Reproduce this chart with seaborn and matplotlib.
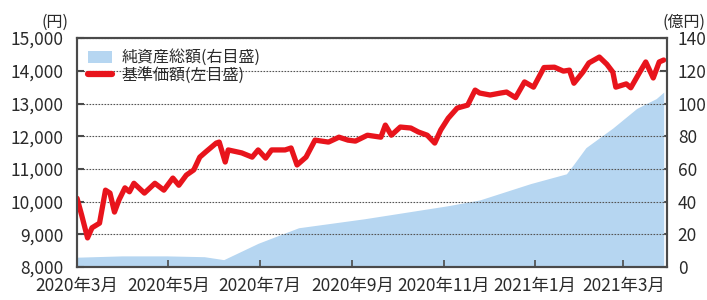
import matplotlib
matplotlib.use('Agg')
import matplotlib.pyplot as plt
from matplotlib.patches import Patch
from matplotlib.lines import Line2D
from matplotlib.ticker import FuncFormatter
import seaborn as sns
import pandas as pd

# 基準価額 (left axis, yen)
nav_dates = [
    '2020-03-01', '2020-03-04', '2020-03-08', '2020-03-11', '2020-03-16', '2020-03-20',
    '2020-03-23', '2020-03-26', '2020-03-29', '2020-04-02', '2020-04-05', '2020-04-08',
    '2020-04-15', '2020-04-22', '2020-04-28', '2020-05-04', '2020-05-08', '2020-05-13',
    '2020-05-18', '2020-05-22', '2020-05-26', '2020-06-02', '2020-06-04', '2020-06-08',
    '2020-06-10', '2020-06-19', '2020-06-26', '2020-06-30', '2020-07-05', '2020-07-09',
    '2020-07-18', '2020-07-22', '2020-07-26', '2020-08-01', '2020-08-07', '2020-08-16',
    '2020-08-23', '2020-08-29', '2020-09-03', '2020-09-11', '2020-09-20', '2020-09-23',
    '2020-09-27', '2020-10-03', '2020-10-10', '2020-10-15', '2020-10-21', '2020-10-26',
    '2020-10-30', '2020-11-04', '2020-11-10', '2020-11-17', '2020-11-22', '2020-11-25',
    '2020-12-02', '2020-12-09', '2020-12-13', '2020-12-19', '2020-12-25', '2020-12-31',
    '2021-01-07', '2021-01-14', '2021-01-20', '2021-01-24', '2021-01-27', '2021-02-02',
    '2021-02-06', '2021-02-13', '2021-02-18', '2021-02-22', '2021-02-24', '2021-03-03',
    '2021-03-06', '2021-03-12', '2021-03-16', '2021-03-21', '2021-03-25', '2021-03-28',
]
nav_values = [
    10100, 9600, 8890, 9200, 9340, 10350,
    10260, 9680, 10050, 10420, 10300, 10560,
    10260, 10560, 10350, 10720, 10500, 10810,
    10970, 11360, 11520, 11790, 11820, 11210,
    11580, 11490, 11360, 11580, 11330, 11580,
    11580, 11640, 11120, 11360, 11880, 11820,
    11970, 11880, 11850, 12030, 11970, 12340,
    12030, 12280, 12250, 12130, 12030, 11790,
    12190, 12550, 12860, 12950, 13410, 13320,
    13260, 13320, 13350, 13180, 13660, 13500,
    14100, 14110, 13990, 14020, 13620, 13960,
    14240, 14420, 14200, 13960, 13500, 13600,
    13480, 13960, 14270, 13780, 14270, 14330,
]

# 純資産総額 (right axis, 億円)
aum_dates = [
    '2020-03-01', '2020-03-31', '2020-04-30', '2020-05-25', '2020-06-07', '2020-06-30',
    '2020-07-27', '2020-08-08', '2020-09-09', '2020-11-04', '2020-11-25', '2020-12-29',
    '2021-01-22', '2021-01-27', '2021-02-04', '2021-02-22', '2021-03-10', '2021-03-23',
    '2021-03-28',
]
aum_values = [
    6.0, 6.8, 6.8, 6.3, 4.5, 14.5,
    24.0, 25.5, 29.5, 37.5, 41.0, 51.0,
    57.0, 63.0, 73.0, 85.0, 97.0, 103.0,
    107.0,
]

tick_dates = ['2020-03-01', '2020-05-01', '2020-07-01', '2020-09-01',
              '2020-11-01', '2021-01-01', '2021-03-01']
tick_labels = ['2020年3月', '2020年5月', '2020年7月', '2020年9月',
               '2020年11月', '2021年1月', '2021年3月']

nav_df = pd.DataFrame({'date': pd.to_datetime(nav_dates), 'nav': nav_values})
aum_df = pd.DataFrame({'date': pd.to_datetime(aum_dates), 'aum': aum_values})

sns.set_theme(style='white')
plt.rcParams['font.family'] = ['Noto Sans CJK JP', 'DejaVu Sans']

red = '#e8141c'
blue = '#b6d6f1'
edge = '#4a4a4a'
txt = '#2a2a2a'

fig = plt.figure(figsize=(7.07, 3.0), dpi=100)
ax = fig.add_axes([0.109, 0.11, 0.834, 0.763])
ax2 = ax.twinx()
ax.set_zorder(ax2.get_zorder() + 1)
ax.patch.set_visible(False)

ax2.fill_between(aum_df['date'], aum_df['aum'], 0, color=blue, lw=0)
ax2.set_ylim(0, 140)
ax2.set_yticks(range(0, 141, 20))

sns.lineplot(data=nav_df, x='date', y='nav', color=red, lw=3.8, ax=ax)
ax.set_ylim(8000, 15000)
ax.set_yticks(range(8000, 15001, 1000))
ax.yaxis.set_major_formatter(FuncFormatter(lambda v, p: f'{int(v):,}'))
ax.set_xlim(pd.Timestamp('2020-03-01'), pd.Timestamp('2021-03-30'))
ax.set_xticks(pd.to_datetime(tick_dates))
ax.set_xticklabels(tick_labels)
ax.set_xlabel('')
ax.set_ylabel('')

ax.grid(axis='y', color='#555555', lw=0.8, linestyle=(0, (1.5, 1.2)))
ax.grid(axis='x', visible=False)
ax2.grid(False)

for a in (ax, ax2):
    for s in a.spines.values():
        s.set_color(edge)
        s.set_linewidth(1.5)
ax.tick_params(axis='y', direction='in', length=5, width=1.5, color=edge,
               labelsize=12.5, pad=10, labelcolor=txt, left=True)
ax.tick_params(axis='x', direction='in', length=5, width=1.2, color=edge,
               labelsize=12.5, pad=7, labelcolor=txt, bottom=True)
ax2.tick_params(axis='y', direction='in', length=5, width=1.5, color=edge,
                labelsize=12.5, pad=8, labelcolor=txt, right=True)

fig.text(0.058, 0.925, '(円)', fontsize=11.5, color=txt, ha='left', va='center')
fig.text(0.937, 0.925, '(億円)', fontsize=11.5, color=txt, ha='left', va='center')

handles = [Patch(facecolor=blue, edgecolor='none'),
           Line2D([0], [0], color=red, lw=4.5)]
ax.legend(handles, ['純資産総額(右目盛)', '基準価額(左目盛)'], loc='upper left',
          frameon=False, fontsize=11.5, handlelength=1.5, handleheight=0.8,
          handletextpad=0.6, labelspacing=0.05, borderaxespad=0.3,
          bbox_to_anchor=(0.0, 1.0), labelcolor=txt)

fig.savefig('out.png', dpi=100)
